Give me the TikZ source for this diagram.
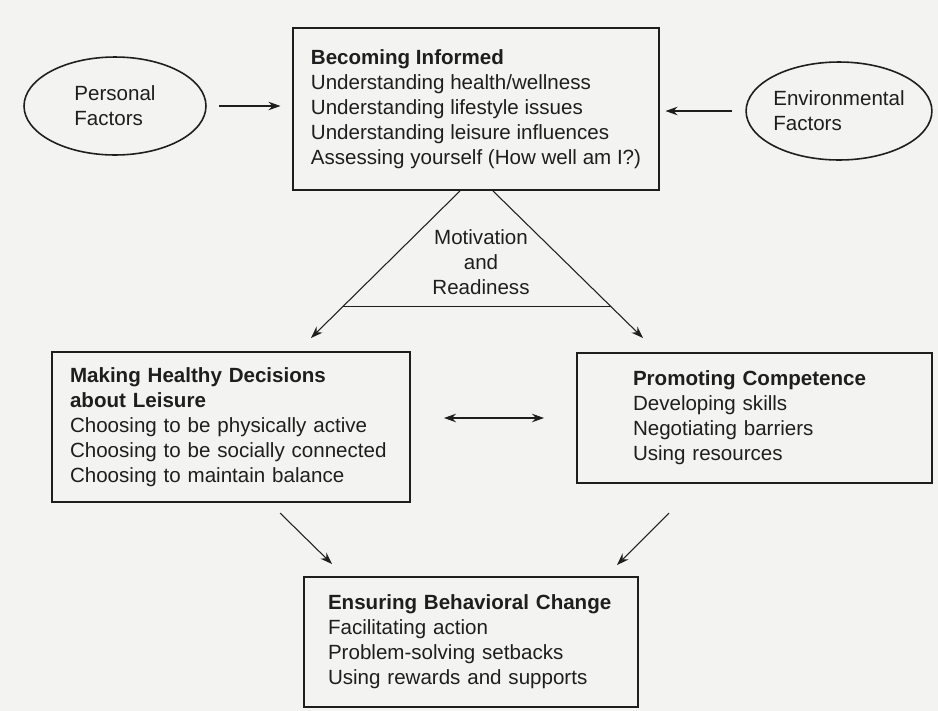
\documentclass[tikz,border=0pt]{standalone}
\usepackage{fontspec}
\setmainfont{Liberation Sans}
\usetikzlibrary{shapes.geometric}
\usetikzlibrary{calc}
\usetikzlibrary{arrows.meta}
\usepackage{color}
\definecolor{paper}{RGB}{243,243,241}
\definecolor{ink}{RGB}{30,30,30}

\tikzset{
	stagebox/.style={draw=ink, line width=1.1pt, rectangle, align=left, inner ysep=0pt, text=ink, font=\fontsize{11.7}{14.2}\selectfont},
	factor/.style={draw=ink, line width=0.9pt, ellipse, inner sep=0pt, align=left, text=ink, font=\fontsize{11.7}{14.2}\selectfont, minimum width=3.64cm, minimum height=1.96cm},
	link/.style={draw=ink, line width=0.6pt}
}

\begin{document}
\begin{tikzpicture}[x=0.02cm, y=-0.02cm, >={Stealth[length=2.4mm, width=1.7mm]}]
		\useasboundingbox (0, 0) rectangle (938, 711);
		\fill[paper] (0, 0) rectangle (938, 711);
		% the four stages
		\node[stagebox, minimum height=3.24cm, inner xsep=0.35cm] (inf) at (476, 109)
			{\textbf{Becoming Informed}\\Understanding health/wellness\\Understanding lifestyle issues\\Understanding leisure influences\\Assessing yourself (How well am I?)};
		\node[stagebox, minimum width=7.16cm, minimum height=3.0cm, inner xsep=0.36cm, text width=6.44cm] (dec) at (231, 427)
			{\textbf{Making Healthy Decisions}\\\textbf{about Leisure}\\Choosing to be physically active\\Choosing to be socially connected\\Choosing to maintain balance};
		\node[stagebox, minimum width=7.10cm, minimum height=2.60cm, inner xsep=1.12cm, text width=4.86cm] (comp) at (754.5, 418)
			{\textbf{Promoting Competence}\\Developing skills\\Negotiating barriers\\Using resources};
		\node[stagebox, minimum width=6.68cm, minimum height=2.60cm, inner xsep=0.48cm, text width=5.72cm] (chg) at (471, 642)
			{\textbf{Ensuring Behavioral Change}\\Facilitating action\\Problem-solving setbacks\\Using rewards and supports};
		% factors
		\node[factor] (pers) at (115, 106) {Personal\\Factors};
		\node[factor] (env) at (839, 111) {Environmental\\Factors};
		\draw[link, arrows=->, shorten <=0.24cm, shorten >=0.24cm] (pers.east) -- (pers.east -| inf.west);
		\draw[link, arrows=->, shorten <=0.26cm, shorten >=0.12cm] (env.west) -- (env.west -| inf.east);
		% motivation triangle
		\coordinate (apexL) at ($(inf.south)+(-16, 0)$);
		\coordinate (apexR) at ($(inf.south)+(17, 0)$);
		\coordinate (tipL) at (311, 338);
		\coordinate (tipR) at (643, 338);
		\draw[link, arrows=->] (apexL) -- (tipL);
		\draw[link, arrows=->] (apexR) -- (tipR);
		\draw[link] ($(apexL)!0.784!(tipL)$) -- ($(apexR)!0.784!(tipR)$);
		\node[align=center, text=ink, font=\fontsize{11.7}{14.2}\selectfont] (motiv) at (481, 262) {Motivation\\and\\Readiness};
		% between the middle stages
		\coordinate (linkL) at (444, 418);
		\coordinate (linkR) at (544, 418);
		\draw[link, arrows=<->] (linkL) -- (linkR);
		% towards behavioral change
		\coordinate (fromL) at (280, 513);
		\coordinate (toL) at (332, 564);
		\coordinate (fromR) at (669, 513);
		\coordinate (toR) at (617, 565);
		\draw[link, arrows=->] (fromL) -- (toL);
		\draw[link, arrows=->] (fromR) -- (toR);
	\end{tikzpicture}
\end{document}
